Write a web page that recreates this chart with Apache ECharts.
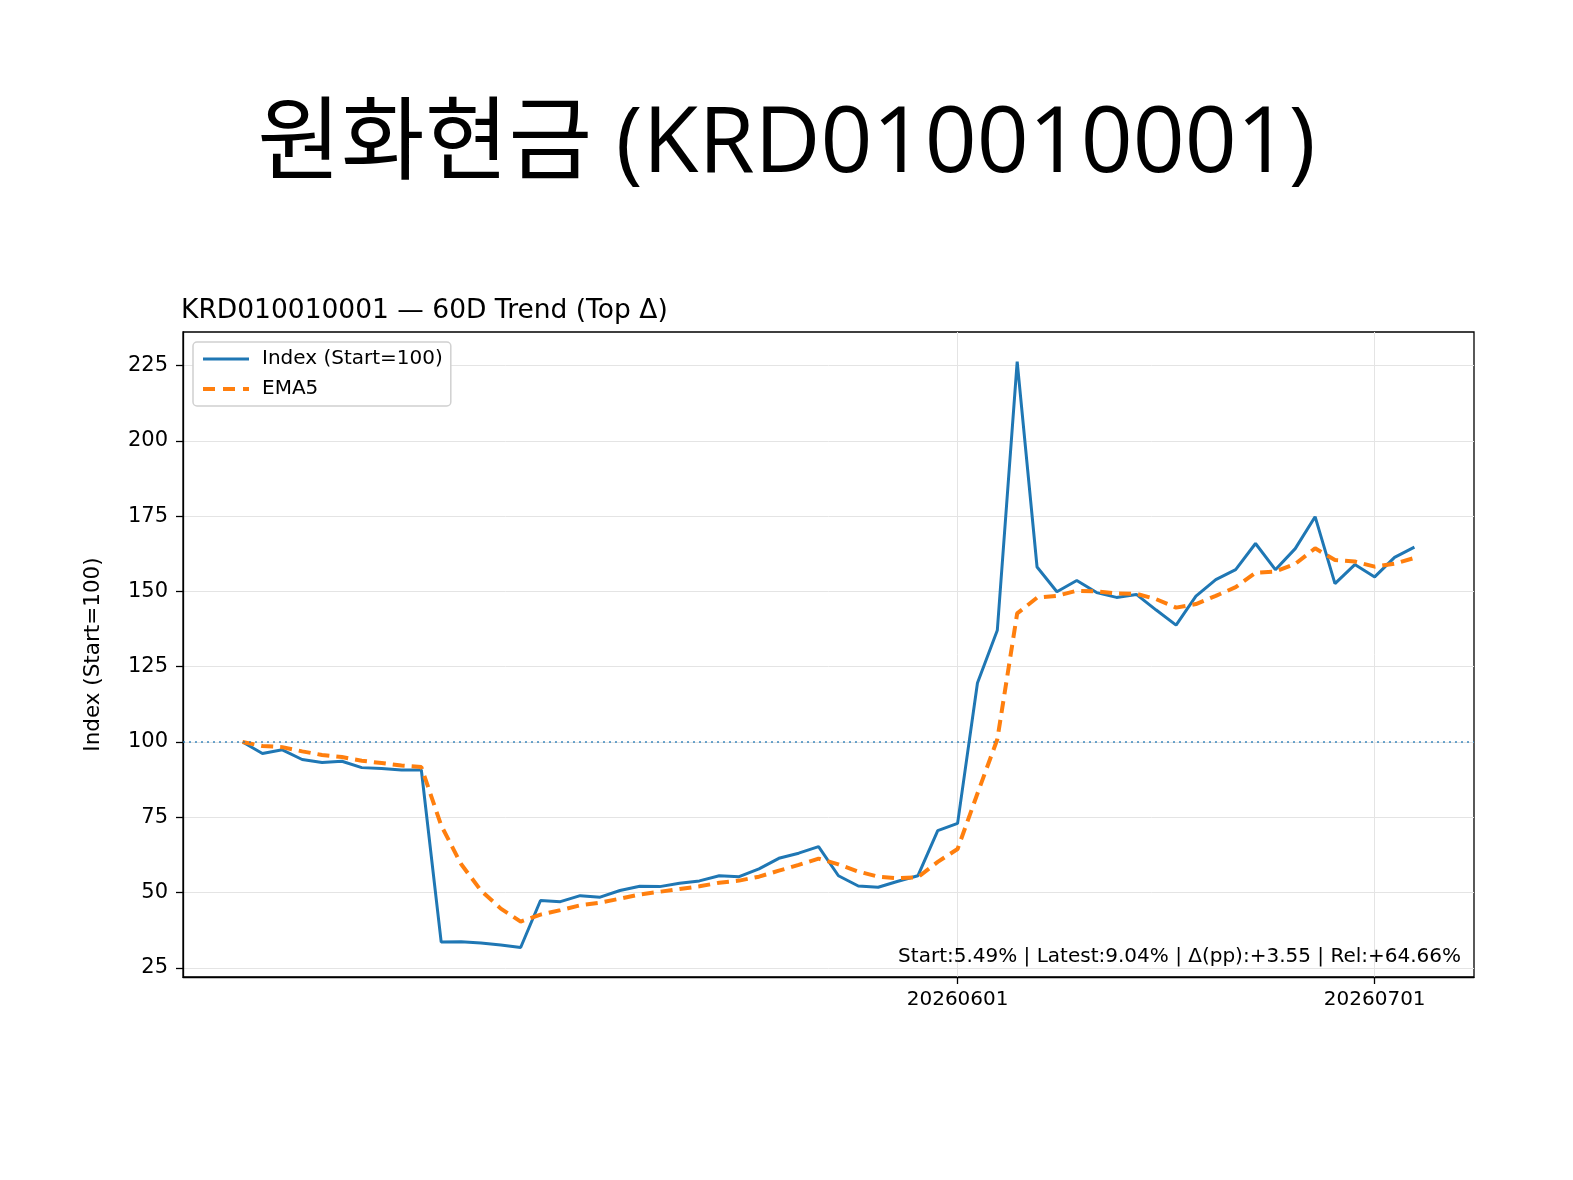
<!DOCTYPE html>
<html>
<head>
<meta charset="utf-8">
<script src="https://cdn.jsdelivr.net/npm/echarts@6/dist/echarts.min.js"></script>
<style>
  html, body { margin: 0; padding: 0; background: #fff; }
  #chart { width: 1573px; height: 1180px; }
</style>
</head>
<body>
<div id="chart"></div>
<script>
// trading dates (60 days)
var dates = [
  '20260407','20260408','20260409','20260410','20260413','20260414','20260415','20260416','20260417','20260420',
  '20260421','20260422','20260423','20260424','20260427','20260428','20260429','20260430','20260504','20260506',
  '20260507','20260508','20260511','20260512','20260513','20260514','20260515','20260518','20260519','20260520',
  '20260521','20260522','20260526','20260527','20260528','20260529','20260601','20260602','20260604','20260605',
  '20260608','20260609','20260610','20260611','20260612','20260615','20260616','20260617','20260618','20260619',
  '20260622','20260623','20260624','20260625','20260626','20260629','20260630','20260701','20260702','20260703'
];
var indexValues = [
  100.0, 96.2, 97.4, 94.2, 93.2, 93.6, 91.5, 91.2, 90.7, 90.7,
  33.6, 33.7, 33.3, 32.6, 31.8, 47.4, 47.0, 49.0, 48.5, 50.7,
  52.1, 52.0, 53.1, 53.9, 55.6, 55.3, 57.9, 61.4, 63.1, 65.3,
  55.6, 52.2, 51.8, 53.8, 55.6, 70.6, 73.0, 119.6, 137.1, 226.3,
  158.1, 149.9, 153.6, 149.6, 148.0, 149.0, 143.8, 138.8, 148.4, 153.9,
  157.2, 165.9, 157.2, 164.2, 174.8, 152.6, 158.9, 154.8, 161.3, 164.7
];
var emaValues = [
  100.0, 98.7, 98.3, 96.9, 95.7, 95.0, 93.8, 93.0, 92.2, 91.7,
  72.3, 59.5, 50.7, 44.7, 40.4, 42.7, 44.2, 45.8, 46.7, 48.0,
  49.4, 50.3, 51.2, 52.1, 53.3, 54.0, 55.3, 57.3, 59.2, 61.3,
  59.4, 57.0, 55.3, 54.8, 55.1, 60.2, 64.5, 82.9, 100.9, 142.7,
  147.9, 148.5, 150.2, 150.0, 149.3, 149.2, 147.4, 144.6, 145.8, 148.5,
  151.4, 156.2, 156.6, 159.1, 164.3, 160.4, 159.9, 158.2, 159.2, 161.1
];
var yTicks = [25, 50, 75, 100, 125, 150, 175, 200, 225];
var xTickLabels = ['20260601', '20260701'];
var baseLine = 100;
var mainTitle = '원화현금 (KRD010010001)';
var subTitle = 'KRD010010001 \u2014 60D Trend (Top \u0394)';
var statText = 'Start:5.49% | Latest:9.04% | \u0394(pp):+3.55 | Rel:+64.66%';

// pad categories so the lines sit inside the frame like matplotlib margins
var pad = 3;
var cats = [];
var i;
for (i = 0; i < pad; i++) cats.push('');
cats = cats.concat(dates);
for (i = 0; i < pad; i++) cats.push(' ');
function padSeries(arr) {
  var out = [];
  for (var k = 0; k < pad; k++) out.push(null);
  return out.concat(arr);
}
function isTick(idx, val) {
  return xTickLabels.indexOf(val) >= 0;
}

var font = 'DejaVu Sans, sans-serif';
var chart = echarts.init(document.getElementById('chart'));
var option = {
  backgroundColor: '#fff',
  animation: false,
  title: [
    {
      text: mainTitle,
      left: 'center',
      top: 96,
      textStyle: { fontFamily: "'Open Sans', 'Noto Sans CJK KR', sans-serif", fontSize: 91, fontWeight: 'normal', color: '#000' }
    },
    {
      text: subTitle,
      left: 176,
      top: 293,
      textStyle: { fontFamily: font, fontSize: 26.5, fontWeight: 'normal', color: '#000' }
    },
    {
      text: statText,
      right: 107,
      top: 942,
      textStyle: { fontFamily: font, fontSize: 20, fontWeight: 'normal', color: '#000' }
    }
  ],
  legend: {
    orient: 'vertical',
    left: 193,
    top: 342,
    padding: [7, 8, 7, 8],
    itemGap: 10,
    itemWidth: 46,
    itemHeight: 14,
    backgroundColor: '#fff',
    borderColor: '#d0d0d0',
    borderWidth: 1.5,
    borderRadius: 4,
    itemStyle: { opacity: 0 },
    textStyle: { fontFamily: font, fontSize: 20, color: '#000', padding: [0, 0, 0, 8] },
    data: [
      { name: 'Index (Start=100)', lineStyle: { width: 3 } },
      { name: 'EMA5', lineStyle: { width: 4, type: [12, 8] } }
    ]
  },
  grid: {
    left: 183, right: 99, top: 332, bottom: 203,
    show: true, borderColor: '#000', borderWidth: 1.3,
    containLabel: false
  },
  xAxis: {
    type: 'category',
    data: cats,
    boundaryGap: false,
    axisLine: { show: true, lineStyle: { color: '#000', width: 1.3 } },
    axisTick: { show: true, interval: isTick, length: 7, lineStyle: { color: '#000', width: 1.3 } },
    axisLabel: { show: true, interval: isTick, margin: 13, fontFamily: font, fontSize: 20, color: '#000' },
    splitLine: { show: true, interval: isTick, lineStyle: { color: '#e4e4e4', width: 1 } }
  },
  yAxis: {
    type: 'value',
    min: 22.0,
    max: 236.1,
    name: 'Index (Start=100)',
    nameLocation: 'middle',
    nameGap: 79,
    nameTextStyle: { fontFamily: font, fontSize: 21.5, color: '#000' },
    axisLine: { show: true, lineStyle: { color: '#000', width: 1.3 } },
    axisTick: { show: true, customValues: yTicks, length: 7, lineStyle: { color: '#000', width: 1.3 } },
    axisLabel: { customValues: yTicks, margin: 15, fontFamily: font, fontSize: 21, color: '#000' },
    splitLine: { show: true, lineStyle: { color: '#e4e4e4', width: 1 } }
  },
  series: [
    {
      name: 'Index (Start=100)',
      type: 'line',
      data: padSeries(indexValues),
      symbol: 'none',
      connectNulls: false,
      lineStyle: { color: '#1f77b4', width: 3 },
      itemStyle: { color: '#1f77b4' },
      z: 3,
      markLine: {
        silent: true,
        symbol: ['none', 'none'],
        label: { show: false },
        lineStyle: { color: '#1f77b4', type: [2, 4], width: 1.6, opacity: 0.85 },
        data: [{ yAxis: baseLine }]
      }
    },
    {
      name: 'EMA5',
      type: 'line',
      data: padSeries(emaValues),
      symbol: 'none',
      lineStyle: { color: '#ff7f0e', width: 4, type: [12, 7] },
      itemStyle: { color: '#ff7f0e' },
      z: 4
    }
  ]
};
chart.setOption(option);
</script>
</body>
</html>
